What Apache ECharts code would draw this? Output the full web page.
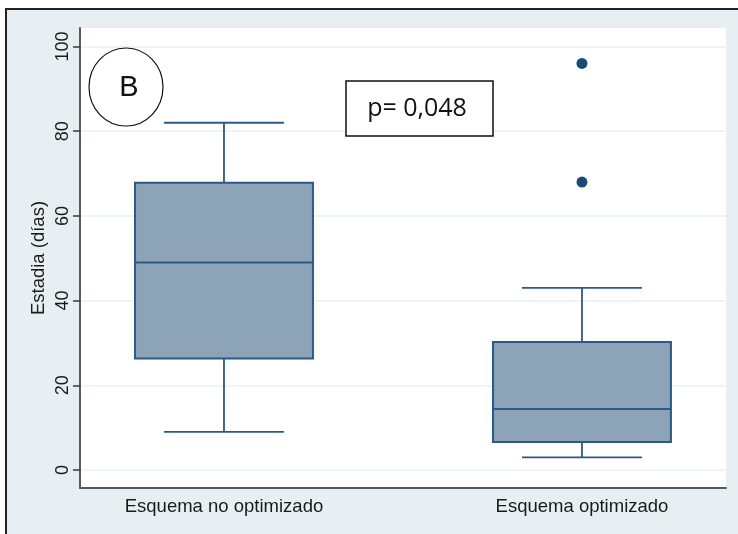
<!DOCTYPE html>
<html>
<head>
<meta charset="utf-8">
<script src="https://cdn.jsdelivr.net/npm/echarts@6/dist/echarts.min.js"></script>
<style>
  html, body { margin: 0; padding: 0; background: #ffffff; }
  #panel {
    position: absolute; left: 5px; top: 8px; width: 733px; height: 526px;
    background: #e8eff2; border-left: 2px solid #222; border-top: 2px solid #222;
    box-sizing: border-box;
  }
  #chart { position: absolute; left: 0; top: 0; width: 738px; height: 534px; }
</style>
</head>
<body>
<div id="panel"></div>
<div id="chart"></div>
<script>
// Length of stay by scheme: box summaries and outliers
const categories = ['Esquema no optimizado', 'Esquema optimizado'];
const whiskerLow  = [9, 3];
const q1          = [26.3, 6.6];
const median      = [49, 14.4];
const q3          = [67.8, 30.2];
const whiskerHigh = [82, 43];
const outlierGroup = [2, 2];
const outlierValue = [68, 96];
const yTicks = [0, 20, 40, 60, 80, 100];

const FILL = '#8ca3b8';
const EDGE = '#2c5985';
const DOT = '#1b4a78';
const FONT = 'Liberation Sans, Arial, sans-serif';

const BOX_WIDTH = 0.497;   // in x-axis units
const CAP_WIDTH = 0.335;

const boxData = categories.map((c, i) =>
  [i + 1, whiskerLow[i], q1[i], median[i], q3[i], whiskerHigh[i]]);
const outlierData = outlierValue.map((v, i) => [outlierGroup[i], v]);

const chart = echarts.init(document.getElementById('chart'), null, { renderer: 'canvas' });

chart.setOption({
  backgroundColor: 'transparent',
  animation: false,
  grid: {
    left: 80, right: 12, top: 28, bottom: 46,
    show: true, backgroundColor: '#ffffff', borderWidth: 0
  },
  xAxis: {
    type: 'value',
    min: 0.5978, max: 2.4023,
    axisLine: { show: true, onZero: false, lineStyle: { color: '#5a5a5a', width: 2 } },
    axisTick: { show: false },
    splitLine: { show: false },
    axisLabel: {
      customValues: [1, 2],
      formatter: v => categories[Math.round(v) - 1],
      color: '#1a1a1a', fontFamily: FONT, fontSize: 18.5, margin: 9
    }
  },
  yAxis: {
    type: 'value',
    min: -4.25, max: 104.37,
    name: 'Estadia (días)',
    nameLocation: 'middle',
    nameRotate: 90,
    nameGap: 31.5,
    nameMoveOverlap: false,
    nameTextStyle: { color: '#1a1a1a', fontFamily: FONT, fontSize: 18.5 },
    axisLine: { show: true, onZero: false, lineStyle: { color: '#5a5a5a', width: 2 } },
    axisTick: { show: true, customValues: yTicks, length: 7, lineStyle: { color: '#3a3a3a', width: 1.5 } },
    axisLabel: {
      customValues: yTicks, rotate: 90, margin: 8,
      color: '#1a1a1a', fontFamily: FONT, fontSize: 18
    },
    splitLine: { show: true, lineStyle: { color: '#e9eff2', width: 1.5 } }
  },
  series: [
    {
      type: 'custom',
      data: boxData,
      encode: { x: 0, y: [1, 2, 3, 4, 5] },
      renderItem(params, api) {
        const x = api.value(0);
        const pLo = api.coord([x, api.value(1)]);
        const pQ1 = api.coord([x, api.value(2)]);
        const pMd = api.coord([x, api.value(3)]);
        const pQ3 = api.coord([x, api.value(4)]);
        const pHi = api.coord([x, api.value(5)]);
        const boxHalf = api.size([BOX_WIDTH, 0])[0] / 2;
        const capHalf = api.size([CAP_WIDTH, 0])[0] / 2;
        const cx = pMd[0];
        const ls = { stroke: EDGE, lineWidth: 1.8, fill: null };
        return {
          type: 'group',
          children: [
            { type: 'line', shape: { x1: cx, y1: pQ3[1], x2: cx, y2: pHi[1] }, style: ls },
            { type: 'line', shape: { x1: cx - capHalf, y1: pHi[1], x2: cx + capHalf, y2: pHi[1] }, style: ls },
            { type: 'line', shape: { x1: cx, y1: pQ1[1], x2: cx, y2: pLo[1] }, style: ls },
            { type: 'line', shape: { x1: cx - capHalf, y1: pLo[1], x2: cx + capHalf, y2: pLo[1] }, style: ls },
            {
              type: 'rect',
              shape: { x: cx - boxHalf, y: pQ3[1], width: boxHalf * 2, height: pQ1[1] - pQ3[1] },
              style: { fill: FILL, stroke: EDGE, lineWidth: 2 }
            },
            { type: 'line', shape: { x1: cx - boxHalf, y1: pMd[1], x2: cx + boxHalf, y2: pMd[1] }, style: { stroke: EDGE, lineWidth: 2 } }
          ]
        };
      }
    },
    {
      type: 'scatter',
      data: outlierData,
      symbol: 'circle',
      symbolSize: 11,
      itemStyle: { color: DOT, opacity: 1 }
    }
  ],
  graphic: [
    {
      type: 'ellipse', z: 100,
      shape: { cx: 126, cy: 87, rx: 37, ry: 39 },
      style: { fill: '#ffffff', stroke: '#111', lineWidth: 1.2 }
    },
    {
      type: 'text', z: 101, x: 129, y: 88,
      style: { text: 'B', fontFamily: FONT, fontSize: 29, fill: '#111', align: 'center', verticalAlign: 'middle' }
    },
    {
      type: 'rect', z: 100,
      shape: { x: 346, y: 81, width: 147, height: 55 },
      style: { fill: '#ffffff', stroke: '#111', lineWidth: 1.5 }
    },
    {
      type: 'text', z: 101, x: 417, y: 109,
      style: { text: 'p= 0,048', fontFamily: 'Open Sans, sans-serif', fontSize: 25, fill: '#111', align: 'center', verticalAlign: 'middle' }
    }
  ]
});
</script>
</body>
</html>
